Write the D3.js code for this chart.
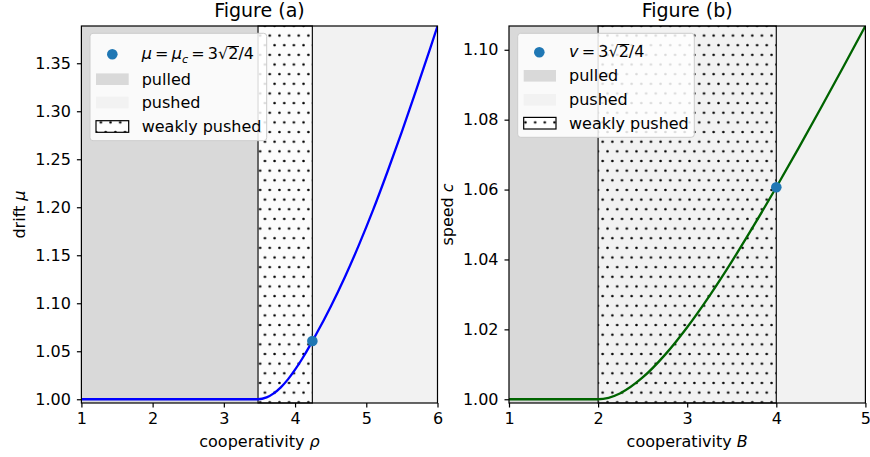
<!DOCTYPE html>
<html><head><meta charset="utf-8">
<script src="https://cdn.jsdelivr.net/npm/d3@7/dist/d3.min.js"></script>
<style>body{margin:0;background:#fff} text{font-family:"DejaVu Sans",sans-serif;fill:#000}</style>
</head><body>
<svg id="c" width="870" height="457"></svg>
<script>
// ---------- data ----------
const rhoVals = [1, 3.48, 3.6, 3.7, 3.8, 3.9, 4.0, 4.1, 4.2, 4.243, 4.3, 4.5, 4.7, 4.9, 5.1, 5.3, 5.5, 5.7, 5.9, 6.0];
const muVals  = [1, 1, 1.0019, 1.0061, 1.0124, 1.0207, 1.0308, 1.0422, 1.0548, 1.0607, 1.0682, 1.0964, 1.1274, 1.1613, 1.1980, 1.2375, 1.2788, 1.3220, 1.3659, 1.3886];
const bVals = [1, 2, 2.25, 2.5, 2.75, 3, 3.25, 3.5, 3.75, 4, 4.25, 4.5, 4.75, 5];
const cVals = [1, 1, 1.00174, 1.00623, 1.0127, 1.02062, 1.02961, 1.0394, 1.04981, 1.06066, 1.07187, 1.08333, 1.095, 1.1068];
const xTicksA = [1, 2, 3, 4, 5, 6];
const yTicksA = [1.00, 1.05, 1.10, 1.15, 1.20, 1.25, 1.30, 1.35];
const xTicksB = [1, 2, 3, 4, 5];
const yTicksB = [1.00, 1.02, 1.04, 1.06, 1.08, 1.10];
const regionsA = [{kind:"pulled", from:1, to:3.48}, {kind:"pushed", from:4.243, to:6}, {kind:"weak", from:3.48, to:4.243}];
const regionsB = [{kind:"pulled", from:1, to:2}, {kind:"pushed", from:2, to:5}, {kind:"weak", from:2, to:4}];
const pointA = [4.243, 1.0607];
const pointB = [4, 1.06066];
const legendLabels = ["pulled", "pushed", "weakly pushed"];
const titles = ["Figure (a)", "Figure (b)"];

// ---------- drawing ----------
const svg = d3.select("#c");
const defs = svg.append("defs");
const s = 9.65;
const pat = defs.append("pattern").attr("id","dots").attr("patternUnits","userSpaceOnUse")
  .attr("width", s).attr("height", 2*s).attr("x", 602.7 - s/4).attr("y", 161 - s/2);
pat.append("circle").attr("cx", s/4).attr("cy", s/2).attr("r", 1.3).attr("fill","#000");
pat.append("circle").attr("cx", 3*s/4).attr("cy", 3*s/2).attr("r", 1.3).attr("fill","#000");

const TOP = 26, BOT = 403;
const colors = {pulled:"#d9d9d9", pushed:"#f2f2f2"};

function mathText(g, x, y, segs, size){
  let cx = x;
  segs.forEach(sg => {
    const fs = sg.sub ? size*0.7 : size;
    const pre = sg.padL ? size*sg.padL : 0;
    cx += pre;
    const t = g.append("text").attr("x", cx).attr("y", y + (sg.sub ? size*0.2 : 0))
      .attr("font-size", fs).attr("font-style", sg.it ? "italic" : "normal").text(sg.t);
    const w = t.node().getComputedTextLength();
    if (sg.over) {
      g.append("line").attr("x1", cx - 0.5).attr("x2", cx + w + 0.5)
        .attr("y1", y - size*0.80).attr("y2", y - size*0.80)
        .attr("stroke","#000").attr("stroke-width", 1);
    }
    cx += w + (sg.padR ? size*sg.padR : 0);
  });
}

function panel(o){
  const x = d3.scaleLinear().domain(o.xDomain).range([o.left, o.right]);
  const y = d3.scaleLinear().domain(o.yDomain).range([BOT, TOP]);
  const g = svg.append("g");
  const cid = "clip" + o.id;
  defs.append("clipPath").attr("id", cid).append("rect")
    .attr("x", o.left).attr("y", TOP).attr("width", o.right - o.left).attr("height", BOT - TOP);

  o.regions.forEach(r => {
    const rx = x(r.from), rw = x(r.to) - x(r.from);
    if (r.kind === "weak") {
      g.append("rect").attr("x", rx).attr("y", TOP).attr("width", rw).attr("height", BOT-TOP).attr("fill", o.weakBg);
      g.append("rect").attr("x", rx).attr("y", TOP).attr("width", rw).attr("height", BOT-TOP)
        .attr("fill","url(#dots)").attr("stroke","#111").attr("stroke-width",1.2);
    } else {
      g.append("rect").attr("x", rx).attr("y", TOP).attr("width", rw).attr("height", BOT-TOP).attr("fill", colors[r.kind]);
    }
  });

  const line = d3.line().x((d,i)=>x(o.xs[i])).y((d,i)=>y(o.ys[i])).curve(d3.curveMonotoneX);
  g.append("path").datum(o.ys).attr("d", line).attr("fill","none")
    .attr("stroke", o.color).attr("stroke-width", 2.3).attr("clip-path", `url(#${cid})`);
  g.append("circle").attr("cx", x(o.point[0])).attr("cy", y(o.point[1])).attr("r", 5.3).attr("fill","#1f77b4");

  g.append("rect").attr("x", o.left).attr("y", TOP).attr("width", o.right-o.left).attr("height", BOT-TOP)
    .attr("fill","none").attr("stroke","#000").attr("stroke-width",1.2);

  const ax = g.append("g").attr("transform", `translate(0,${BOT})`)
    .call(d3.axisBottom(x).tickValues(o.xTicks).tickSize(4.5).tickPadding(5.5).tickFormat(d3.format("d")));
  const ay = g.append("g").attr("transform", `translate(${o.left},0)`)
    .call(d3.axisLeft(y).tickValues(o.yTicks).tickSize(4.5).tickPadding(6).tickFormat(d3.format(".2f")));
  [ax, ay].forEach(a => {
    a.select(".domain").remove();
    a.selectAll("line").attr("stroke","#000").attr("stroke-width",1.2);
    a.selectAll("text").attr("font-size",16).attr("font-family","DejaVu Sans").attr("fill","#000");
  });

  const cx = (o.left + o.right)/2;
  g.append("text").attr("x", cx).attr("y", 17).attr("text-anchor","middle").attr("font-size",19).text(o.title);
  const xl = g.append("text").attr("x", cx).attr("y", 447).attr("text-anchor","middle").attr("font-size",16);
  xl.append("tspan").text("cooperativity ");
  xl.append("tspan").attr("font-style","italic").text(o.xVar);
  const yl = g.append("text").attr("transform", `translate(${o.ylabelX},${(TOP+BOT)/2}) rotate(-90)`)
    .attr("text-anchor","middle").attr("font-size",16);
  yl.append("tspan").text(o.yName + " ");
  yl.append("tspan").attr("font-style","italic").text(o.yVar);

  // legend
  const L = o.legend;
  const lg = g.append("g");
  lg.append("rect").attr("x", L.x0).attr("y", L.y0).attr("width", L.x1-L.x0).attr("height", L.y1-L.y0)
    .attr("rx", 3).attr("fill","#fff").attr("fill-opacity",0.85).attr("stroke","#cccccc").attr("stroke-width",1);
  lg.append("circle").attr("cx", L.mx).attr("cy", L.rows[0]).attr("r", 5.3).attr("fill","#1f77b4");
  mathText(lg, L.tx, L.rows[0] + 5, o.legendMath, 16);
  const pw = L.px1 - L.px0, ph = 11.6;
  legendLabels.forEach((lab, i) => {
    const cy = L.rows[i+1];
    if (i === 2) {
      lg.append("rect").attr("x", L.px0).attr("y", cy - ph/2).attr("width", pw).attr("height", ph).attr("fill","#fff");
      lg.append("rect").attr("x", L.px0).attr("y", cy - ph/2).attr("width", pw).attr("height", ph)
        .attr("fill","url(#dots)").attr("stroke","#000").attr("stroke-width",1.2);
    } else {
      lg.append("rect").attr("x", L.px0).attr("y", cy - ph/2).attr("width", pw).attr("height", ph)
        .attr("fill", colors[i===0 ? "pulled" : "pushed"]);
    }
    lg.append("text").attr("x", L.tx).attr("y", cy + 5.5).attr("font-size",16).text(lab);
  });
}

panel({
  id:"a", left:81.4, right:437.5, xDomain:[1,6], yDomain:[0.9961, 1.3888],
  xs:rhoVals, ys:muVals, color:"#0000ff", point:pointA, regions:regionsA, weakBg:"#fcfcfc",
  xTicks:xTicksA, yTicks:yTicksA, title:titles[0], xVar:"ρ", yName:"drift", yVar:"μ", ylabelX:25,
  legend:{x0:90, x1:266.7, y0:33.3, y1:140.7, mx:112.3, px0:96, px1:128.7, tx:141.7, rows:[54.3, 79.2, 102.5, 126.5]},
  legendMath:[{t:"μ", it:true},{t:"=", padL:0.2, padR:0.2},{t:"μ", it:true},{t:"c", it:true, sub:true},
              {t:"=", padL:0.2, padR:0.2},{t:"3"},{t:"√"},{t:"2", over:true},{t:"/4"}]
});
panel({
  id:"b", left:509, right:865.4, xDomain:[1,5], yDomain:[0.99893, 1.1068],
  xs:bVals, ys:cVals, color:"#006400", point:pointB, regions:regionsB, weakBg:"#f2f2f2",
  xTicks:xTicksB, yTicks:yTicksB, title:titles[1], xVar:"B", yName:"speed", yVar:"c", ylabelX:453,
  legend:{x0:517.7, x1:694.3, y0:33.3, y1:137.3, mx:539.3, px0:523.7, px1:556, tx:569, rows:[52.3, 75.8, 99.8, 123.2]},
  legendMath:[{t:"v", it:true},{t:"=", padL:0.2, padR:0.2},{t:"3"},{t:"√"},{t:"2", over:true},{t:"/4"}]
});
</script>
</body></html>
